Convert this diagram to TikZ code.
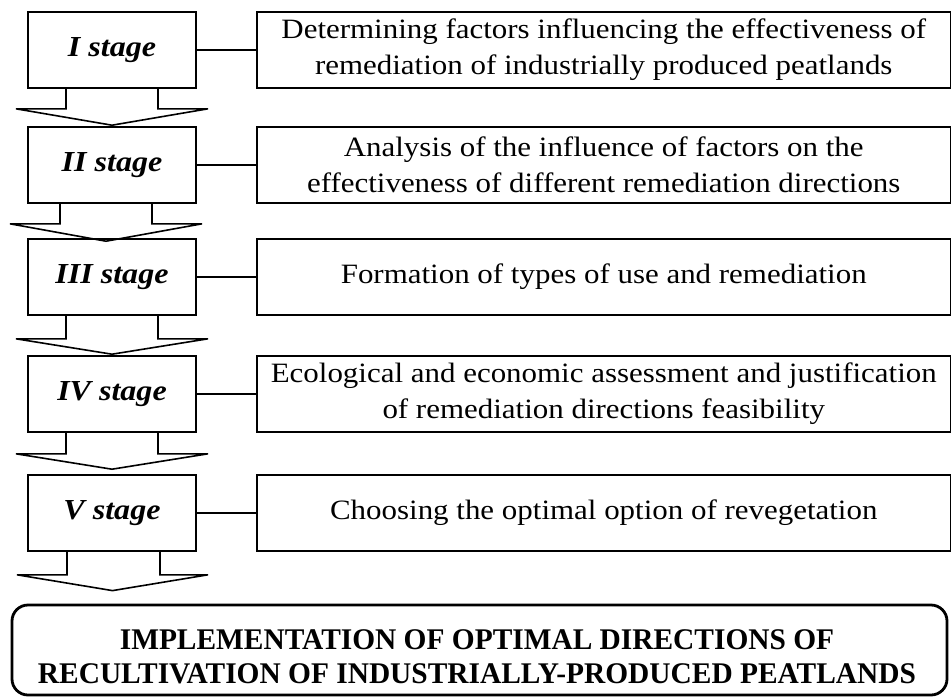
\documentclass[tikz,border=0pt]{standalone}
\usepackage{fontspec}
\setmainfont[FakeStretch=1.105]{Liberation Serif}
\newfontfamily\finalfont[FakeStretch=0.98]{Liberation Serif}
\usetikzlibrary{calc}
\begin{document}
\begin{tikzpicture}[x=1pt,y=-1pt,
  stagebox/.style={draw,line width=1.6pt,minimum width=168pt,minimum height=76pt,inner sep=0pt,
    font=\fontsize{29}{36}\selectfont\bfseries\itshape},
  descbox/.style={draw,line width=1.6pt,minimum width=693.5pt,minimum height=76pt,inner sep=0pt,
    align=center,font=\fontsize{28}{36}\selectfont},
  link/.style={line width=1.6pt},
  blockarrow/.style={draw,line width=1.6pt,line join=miter},
  finalbox/.style={draw,line width=2.8pt,rounded corners=16pt,minimum width=935pt,minimum height=90pt,
    inner sep=0pt,align=center,font=\finalfont\fontsize{30}{34}\selectfont\bfseries}
]
\useasboundingbox (0,0) rectangle (951,697);

\node[stagebox] (s1) at (112,50) {I stage};
\node[stagebox] (s2) at (112,165) {II stage};
\node[stagebox] (s3) at (112,277) {III stage};
\node[stagebox] (s4) at (112,394) {IV stage};
\node[stagebox] (s5) at (112,513) {V stage};

\node[descbox] (d1) at (603.75,50) {Determining factors influencing the effectiveness of\\remediation of industrially produced peatlands};
\node[descbox] (d2) at (603.75,165) {Analysis of the influence of factors on the\\effectiveness of different remediation directions};
\node[descbox] (d3) at (603.75,277) {Formation of types of use and remediation};
\node[descbox] (d4) at (603.75,394) {Ecological and economic assessment and justification\\of remediation directions feasibility};
\node[descbox] (d5) at (603.75,513) {Choosing the optimal option of revegetation};

\node[finalbox] (f) at (479.5,650) {};
\node[font=\finalfont\fontsize{30}{34}\selectfont\bfseries,align=center,inner sep=0pt] (ft) at (477,657)
  {IMPLEMENTATION OF OPTIMAL DIRECTIONS OF\\RECULTIVATION OF INDUSTRIALLY-PRODUCED PEATLANDS};

\foreach \i in {1,...,5}{
  \draw[link] (s\i.east) -- (d\i.west);
}

% block arrows between stages
\draw[blockarrow] ($(s1.south)+(-46,0)$) -- ++(0,20) -- ++(-50,0) -- ($(s2.north)+(0,-1)$) -- ($(s1.south)+(96,20)$) -- ++(-50,0) -- ($(s1.south)+(46,0)$);
\draw[blockarrow] ($(s2.south)+(-52,0)$) -- ++(0,20) -- ++(-50,0) -- ($(s3.north)+(-6,3)$) -- ($(s2.south)+(90,20)$) -- ++(-50,0) -- ($(s2.south)+(40,0)$);
\draw[blockarrow] ($(s3.south)+(-46,0)$) -- ++(0,23) -- ++(-50,0) -- ($(s4.north)+(0,-1)$) -- ($(s3.south)+(96,23)$) -- ++(-50,0) -- ($(s3.south)+(46,0)$);
\draw[blockarrow] ($(s4.south)+(-46,0)$) -- ++(0,21) -- ++(-50,0) -- ($(s5.north)+(0,-5)$) -- ($(s4.south)+(96,21)$) -- ++(-50,0) -- ($(s4.south)+(46,0)$);
\draw[blockarrow] ($(s5.south)+(-45,0)$) -- ++(0,23) -- ++(-50,0) -- ($(f.north)+(-367,-13)$) -- ($(s5.south)+(96,23)$) -- ++(-48,0) -- ($(s5.south)+(48,0)$);
\end{tikzpicture}
\end{document}
